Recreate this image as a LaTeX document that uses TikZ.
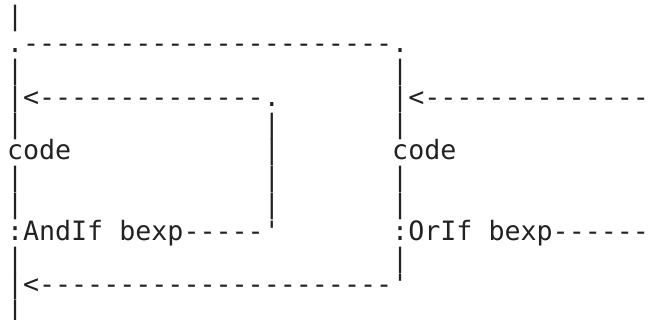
\documentclass[tikz,border=0pt]{standalone}
\usepackage{fontspec}
\setmonofont{DejaVu Sans Mono}
\definecolor{ink}{RGB}{34,34,34}
\newcommand\asc[4]{\node[txt] (#1) at ({7pt+#2*16.05pt},{-26pt-#3*26.8pt}) {#4};}
\begin{document}
\begin{tikzpicture}[txt/.style={anchor=base west,inner sep=0pt,outer sep=0pt,text=ink,font=\fontsize{26.66pt}{27pt}\selectfont\ttfamily}]
\useasboundingbox (0,0) rectangle (651pt,-320pt);
\asc{a0}{0}{0}{|}
\asc{a1}{0}{1}{.-----------------------.}
\asc{a2}{0}{2}{|}
\asc{b2}{24}{2}{|}
\asc{a3}{0}{3}{|<--------------.}
\asc{b3}{24}{3}{|<--------------}
\asc{a4}{0}{4}{|}
\asc{m4}{16}{4}{|}
\asc{b4}{24}{4}{|}
\asc{a5}{0}{5}{code}
\asc{m5}{16}{5}{|}
\asc{b5}{24}{5}{code}
\asc{a6}{0}{6}{|}
\asc{m6}{16}{6}{|}
\asc{b6}{24}{6}{|}
\asc{a7}{0}{7}{|}
\asc{m7}{16}{7}{|}
\asc{b7}{24}{7}{|}
\asc{a8}{0}{8}{:AndIf}
\asc{c8}{7}{8}{bexp-----'}
\asc{b8}{24}{8}{:OrIf}
\asc{d8}{30}{8}{bexp------}
\asc{a9}{0}{9}{|}
\asc{b9}{24}{9}{|}
\asc{a10}{0}{10}{|<----------------------'}
\asc{a11}{0}{11}{|}
\end{tikzpicture}
\end{document}
